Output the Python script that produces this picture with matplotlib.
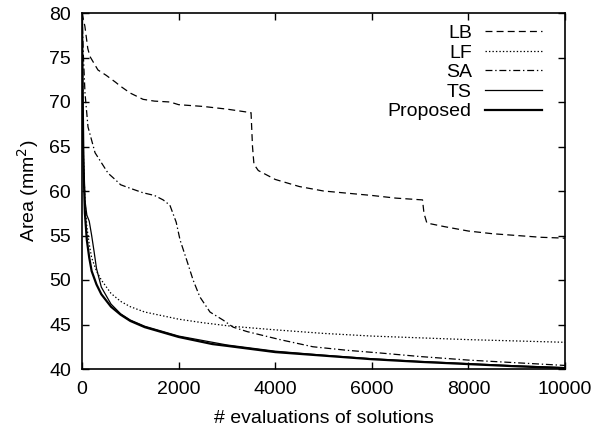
import numpy as np
import matplotlib.pyplot as plt

plt.rcParams['font.family'] = ['Liberation Sans', 'DejaVu Sans']
plt.rcParams['font.size'] = 14
plt.rcParams['lines.scale_dashes'] = False

# LB (dashed)
lb_x = [0, 60, 120, 166, 330, 500, 700, 790, 1000, 1264, 1500, 1824, 2000, 2509, 3000,
        3500, 3530, 3560, 3650, 4000, 4500, 5000, 6000, 6500, 7050, 7080, 7140, 7500,
        8000, 8500, 9000, 9500, 10000]
lb_y = [80, 78.5, 76, 75.1, 73.6, 73.0, 72.2, 71.8, 71.0, 70.3, 70.1, 70.0, 69.7, 69.5, 69.2,
        68.8, 65.0, 63.0, 62.3, 61.3, 60.5, 60.0, 59.5, 59.2, 59.0, 57.5, 56.4, 56.0,
        55.5, 55.2, 55.0, 54.8, 54.7]

# LF (dotted)
lf_x = [0, 15, 30, 60, 100, 150, 200, 300, 400, 600, 800, 1000, 1300, 2000, 2500, 3100,
        4000, 5000, 6000, 7000, 8000, 9000, 10000]
lf_y = [80, 71, 64, 59, 56, 54, 52.5, 51, 50, 48.5, 47.6, 47.0, 46.4, 45.6, 45.2, 44.8,
        44.4, 44.0, 43.7, 43.5, 43.3, 43.15, 43.0]

# SA (dash-dot)
sa_x = [0, 30, 62, 124, 270, 540, 704, 800, 1000, 1264, 1500, 1680, 1820, 1950, 2030,
        2170, 2300, 2440, 2650, 2920, 3130, 3420, 4100, 4780, 5490, 6170, 7000, 8000,
        9000, 10000]
sa_y = [80, 75, 71, 67.2, 64.3, 62.0, 61.2, 60.7, 60.3, 59.8, 59.5, 59.0, 58.4, 56.5, 54.5,
        52.2, 50.0, 48.1, 46.4, 45.5, 44.7, 44.2, 43.3, 42.5, 42.1, 41.8, 41.4, 41.0,
        40.7, 40.4]

# TS (solid, thin)
ts_x = [0, 15, 30, 60, 100, 150, 200, 250, 300, 400, 600, 800, 1000, 1300, 2000, 3000,
        4000, 5000, 6000, 7000, 8000, 9000, 10000]
ts_y = [80, 71, 64, 59, 57.3, 56.6, 55.0, 53.2, 51.3, 49.2, 47.3, 46.2, 45.5, 44.8, 43.7, 42.7,
        42.0, 41.55, 41.15, 40.85, 40.6, 40.35, 40.15]

# Proposed (solid, thick)
pr_x = [0, 15, 30, 60, 100, 150, 200, 300, 400, 600, 800, 1000, 1300, 2000, 2700, 3000,
        4000, 5000, 6000, 7000, 8000, 9000, 10000]
pr_y = [80, 70, 63, 57.5, 54.5, 52.5, 51, 49.5, 48.4, 47, 46.1, 45.4, 44.7, 43.6, 42.8, 42.6,
        41.9, 41.5, 41.1, 40.8, 40.55, 40.3, 40.1]

fig = plt.figure(figsize=(6.04, 4.33), dpi=100)
ax = fig.add_axes([82 / 604, 1 - 369 / 433, (565 - 82) / 604, (369 - 13) / 433])

ax.plot(lb_x, lb_y, color='black', lw=0.9, ls=(0, (5, 3)), label='LB')
ax.plot(lf_x, lf_y, color='black', lw=0.9, ls=(0, (1, 1.5)), label='LF')
ax.plot(sa_x, sa_y, color='black', lw=0.9, ls=(0, (5, 2, 1, 2)), label='SA')
ax.plot(ts_x, ts_y, color='black', lw=0.9, label='TS')
ax.plot(pr_x, pr_y, color='black', lw=1.6, label='Proposed')

ax.set_xlim(0, 10000)
ax.set_ylim(40, 80)
ax.set_xticks(np.arange(0, 10001, 2000))
ax.set_yticks(np.arange(40, 81, 5))
ax.tick_params(direction='in', length=5, width=1, top=True, right=True, pad=8)
ax.tick_params(axis='x', pad=9)
for s in ax.spines.values():
    s.set_linewidth(1.2)

ax.set_xlabel('# evaluations of solutions', labelpad=8)
ax.set_ylabel('Area (mm$^2$)', labelpad=6)

leg = ax.legend(loc='upper right', bbox_to_anchor=(0.972, 0.995), frameon=False,
                markerfirst=False, handlelength=2.9, handletextpad=0.7, labelspacing=0.1,
                borderpad=0.3, borderaxespad=0.2)
# gnuplot style: labels right-aligned against the line samples
for t in leg.get_texts():
    t.set_ha('right')

fig.savefig('out.png', dpi=100)
